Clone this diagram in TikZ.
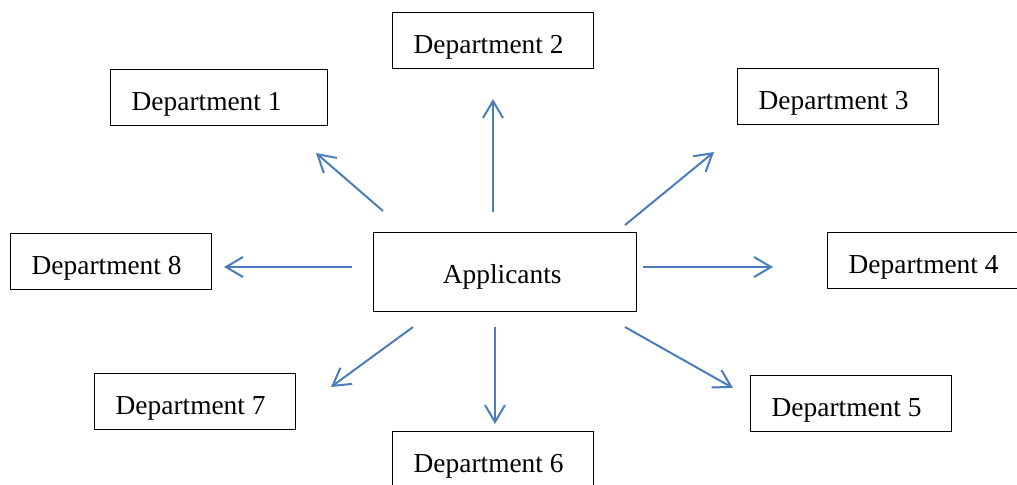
\documentclass[tikz,border=0pt]{standalone}
\usepackage{fontspec}
\setmainfont{Liberation Serif}
\usetikzlibrary{arrows.meta}
\definecolor{arrowblue}{RGB}{74,126,187}
\begin{document}
\begin{tikzpicture}[x=0.5pt,y=-0.5pt,
  every node/.style={font=\fontsize{13.7pt}{16pt}\selectfont},
  deptbox/.style={draw=black, line width=0.7pt, rectangle, anchor=north west,
    inner xsep=10.5pt, inner ysep=0pt, minimum height=27.75pt,
    text width=#1, align=flush left, text height=13.5pt, text depth=0pt},
  deptbox/.default=79.5pt,
  appbox/.style={draw=black, line width=0.7pt, rectangle, anchor=north west,
    inner sep=0pt, minimum width=131.5pt, minimum height=39.5pt,
    align=center, text height=11.5pt, text depth=0pt},
  flow/.style={draw=arrowblue, line width=1pt,
    -{Straight Barb[length=8.5pt,width=10pt,line width=1pt]}}]
  \useasboundingbox (0,0) rectangle (1017,484);
  \clip (0,0) rectangle (1017,484);

  % central box
  \node[appbox] (app) at (373,232) {\hspace*{-3pt}Applicants};

  % department boxes
  \node[deptbox=87.5pt] (d1) at (110,69) {Department 1};
  \node[deptbox] (d2) at (392,12) {Department 2};
  \node[deptbox] (d3) at (737,68) {Department 3};
  \node[deptbox=95pt] (d4) at (827,232) {Department 4};
  \node[deptbox] (d5) at (750,375) {Department 5};
  \node[deptbox] (d6) at (392,431) {Department 6};
  \node[deptbox] (d7) at (94,373) {Department 7};
  \node[deptbox] (d8) at (10,233) {Department 8};

  % arrow end points (gaps on both sides)
  \coordinate (s1) at (383,211); \coordinate (t1) at (316,153);
  \coordinate (s2) at (493,212); \coordinate (t2) at (493,99);
  \coordinate (s3) at (625,225); \coordinate (t3) at (714,152);
  \coordinate (s4) at (643,267); \coordinate (t4) at (773,267);
  \coordinate (s5) at (625,327); \coordinate (t5) at (733,388);
  \coordinate (s6) at (495,327); \coordinate (t6) at (495,424);
  \coordinate (s7) at (413,327); \coordinate (t7) at (331,387);
  \coordinate (s8) at (352,267); \coordinate (t8) at (224,267);

  \foreach \i in {1,...,8} {
    \draw[flow] (s\i) -- (t\i);
  }
\end{tikzpicture}
\end{document}
